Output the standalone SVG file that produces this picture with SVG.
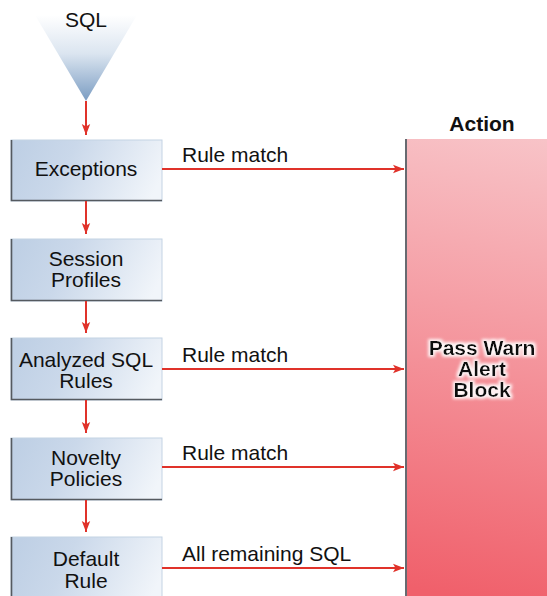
<svg xmlns="http://www.w3.org/2000/svg" width="547" height="596" viewBox="0 0 547 596">
  <defs>
    <linearGradient id="funnelFill" x1="0" y1="0" x2="0" y2="1">
      <stop offset="0" stop-color="#ffffff"/>
      <stop offset="0.45" stop-color="#dbe5f0"/>
      <stop offset="1" stop-color="#7a9cc2"/>
    </linearGradient>
    <linearGradient id="boxFill" x1="0" y1="0.4" x2="1" y2="0.6">
      <stop offset="0" stop-color="#bfd0e5"/>
      <stop offset="0.35" stop-color="#cad8ea"/>
      <stop offset="1" stop-color="#f1f5fa"/>
    </linearGradient>
    <linearGradient id="actionFill" gradientUnits="userSpaceOnUse" x1="545" y1="125" x2="455" y2="596">
      <stop offset="0" stop-color="#f8c6ca"/>
      <stop offset="0.4" stop-color="#f59ea5"/>
      <stop offset="1" stop-color="#f0606b"/>
    </linearGradient>
    <filter id="glow" x="-20%" y="-30%" width="140%" height="160%">
      <feMorphology in="SourceAlpha" operator="dilate" radius="1.5" result="d"/>
      <feGaussianBlur in="d" stdDeviation="1.8" result="b"/>
      <feFlood flood-color="#ffffff" flood-opacity="0.9"/>
      <feComposite in2="b" operator="in" result="g"/>
      <feMerge>
        <feMergeNode in="g"/>
        <feMergeNode in="SourceGraphic"/>
      </feMerge>
    </filter>
    <marker id="arrow" markerWidth="12" markerHeight="10" refX="11" refY="5" orient="auto" markerUnits="userSpaceOnUse">
      <path d="M0,0.8 L11,5 L0,9.2 L2.5,5 Z" fill="#e0322a"/>
    </marker>
  </defs>
  <style>
    text { font-family: "Liberation Sans", Arial, Helvetica, sans-serif; fill: #111; }
    .lbl { font-size: 21px; text-anchor: middle; }
    .edge-lbl { font-size: 21px; }
    .bold { font-size: 21px; font-weight: bold; text-anchor: middle; }
    .box { fill: url(#boxFill); stroke: #c4d3e4; stroke-width: 1; }
    .shade { fill: none; stroke: #555a60; stroke-width: 1.6; }
    .conn { stroke: #e0322a; stroke-width: 2; fill: none; marker-end: url(#arrow); }
  </style>

  <!-- incoming SQL funnel -->
  <g id="sql">
    <polygon points="35,15 137,15 86,101" fill="url(#funnelFill)"/>
    <text class="lbl" x="86" y="27">SQL</text>
  </g>

  <!-- action panel -->
  <g id="action">
    <text class="bold" x="482" y="131">Action</text>
    <rect x="405" y="139" width="142" height="457" fill="url(#actionFill)"/>
    <line x1="406" y1="139" x2="406" y2="596" stroke="#676a70" stroke-width="2"/>
    <g filter="url(#glow)">
      <text class="bold" x="482" y="355">Pass Warn</text>
      <text class="bold" x="482" y="376">Alert</text>
      <text class="bold" x="482" y="397">Block</text>
    </g>
  </g>

  <!-- rule stages -->
  <g id="exceptions">
    <rect class="box" x="11" y="140" width="151" height="61"/>
    <polyline class="shade" points="11.5,140 11.5,200.5 162,200.5"/>
    <text class="lbl" x="86" y="176">Exceptions</text>
  </g>
  <g id="session-profiles">
    <rect class="box" x="11" y="239" width="151" height="62"/>
    <polyline class="shade" points="11.5,239 11.5,300.5 162,300.5"/>
    <text class="lbl" x="86" y="266">Session</text>
    <text class="lbl" x="86" y="287">Profiles</text>
  </g>
  <g id="analyzed-sql-rules">
    <rect class="box" x="11" y="338" width="151" height="62"/>
    <polyline class="shade" points="11.5,338 11.5,399.5 162,399.5"/>
    <text class="lbl" x="86" y="367">Analyzed SQL</text>
    <text class="lbl" x="86" y="388">Rules</text>
  </g>
  <g id="novelty-policies">
    <rect class="box" x="11" y="438" width="151" height="62"/>
    <polyline class="shade" points="11.5,438 11.5,499.5 162,499.5"/>
    <text class="lbl" x="86" y="465">Novelty</text>
    <text class="lbl" x="86" y="486">Policies</text>
  </g>
  <g id="default-rule">
    <rect class="box" x="11" y="537" width="151" height="64"/>
    <polyline class="shade" points="11.5,537 11.5,600"/>
    <text class="lbl" x="86" y="566">Default</text>
    <text class="lbl" x="86" y="588">Rule</text>
  </g>

  <!-- connectors -->
  <g id="connectors">
    <line class="conn" x1="86" y1="101" x2="86" y2="135"/>
    <line class="conn" x1="86" y1="201" x2="86" y2="234"/>
    <line class="conn" x1="86" y1="301" x2="86" y2="333"/>
    <line class="conn" x1="86" y1="400" x2="86" y2="433"/>
    <line class="conn" x1="86" y1="500" x2="86" y2="532"/>

    <line class="conn" x1="162" y1="169" x2="404" y2="169"/>
    <line class="conn" x1="162" y1="369" x2="404" y2="369"/>
    <line class="conn" x1="162" y1="467" x2="404" y2="467"/>
    <line class="conn" x1="162" y1="568" x2="404" y2="568"/>

    <text class="edge-lbl" x="182" y="162">Rule match</text>
    <text class="edge-lbl" x="182" y="362">Rule match</text>
    <text class="edge-lbl" x="182" y="460">Rule match</text>
    <text class="edge-lbl" x="182" y="561">All remaining SQL</text>
  </g>
</svg>
